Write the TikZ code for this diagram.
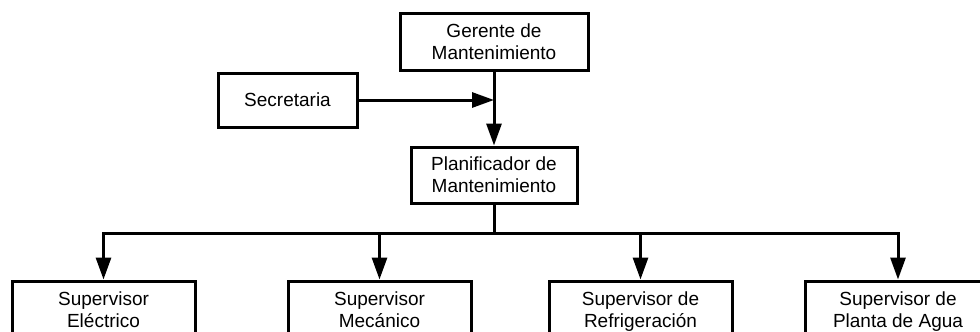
\documentclass[tikz,border=0pt]{standalone}
\usepackage{fontspec}
\setmainfont{Liberation Sans}
\usetikzlibrary{arrows.meta}
\newcommand{\lin}{\rule[-4.2pt]{0pt}{22pt}}

\begin{document}
\begin{tikzpicture}[x=1pt,y=1pt,line width=3pt,
    font=\fontsize{19}{22}\selectfont,
    cargo/.style={draw,align=center,inner sep=0pt,minimum height=57pt},
    flecha/.style={-{Triangle[length=22pt,width=15pt]}}]
      \clip (0,0) rectangle (980,-332);
      % cargos
      \node[cargo,minimum width=188pt] (gerente) at (494,-41.5)
      {Gerente de\lin\\Mantenimiento\lin};
      \node[cargo,minimum width=139pt,minimum height=54pt] (secre) at
      (287.5,-100) {Secretaria\lin};
      \node[cargo,minimum width=166pt,minimum height=56pt] (plani) at
      (494,-175) {Planificador de\lin\\Mantenimiento\lin};
      \node[cargo,minimum width=183pt] (electrico) at (103.5,-309.5)
      {Supervisor\lin\\Eléctrico\lin};
      \node[cargo,minimum width=183pt] (mecanico) at (379.5,-309.5)
      {Supervisor\lin\\Mecánico\lin};
      \node[cargo,minimum width=183pt] (refrig) at (640.5,-309.5)
      {Supervisor de\lin\\Refrigeración\lin};
      \node[cargo,minimum width=186pt] (agua) at (898,-309.5)
      {Supervisor de\lin\\Planta de Agua\lin};
      % lineas
      \coordinate (union) at (gerente.south |- secre.east);
      \coordinate (barra) at (0,-233);
      \draw[flecha] (gerente.south) -- (plani.north);
      \draw[flecha] (secre.east) -- (union);
      \draw (plani.south) -- (plani.south |- barra);
      \draw[line cap=rect] (electrico.north |- barra) -- (agua.north |- barra);
      \foreach \s in {electrico,mecanico,refrig,agua}
      \draw[flecha] (\s.north |- barra) -- (\s.north);
    \end{tikzpicture}
\end{document}
